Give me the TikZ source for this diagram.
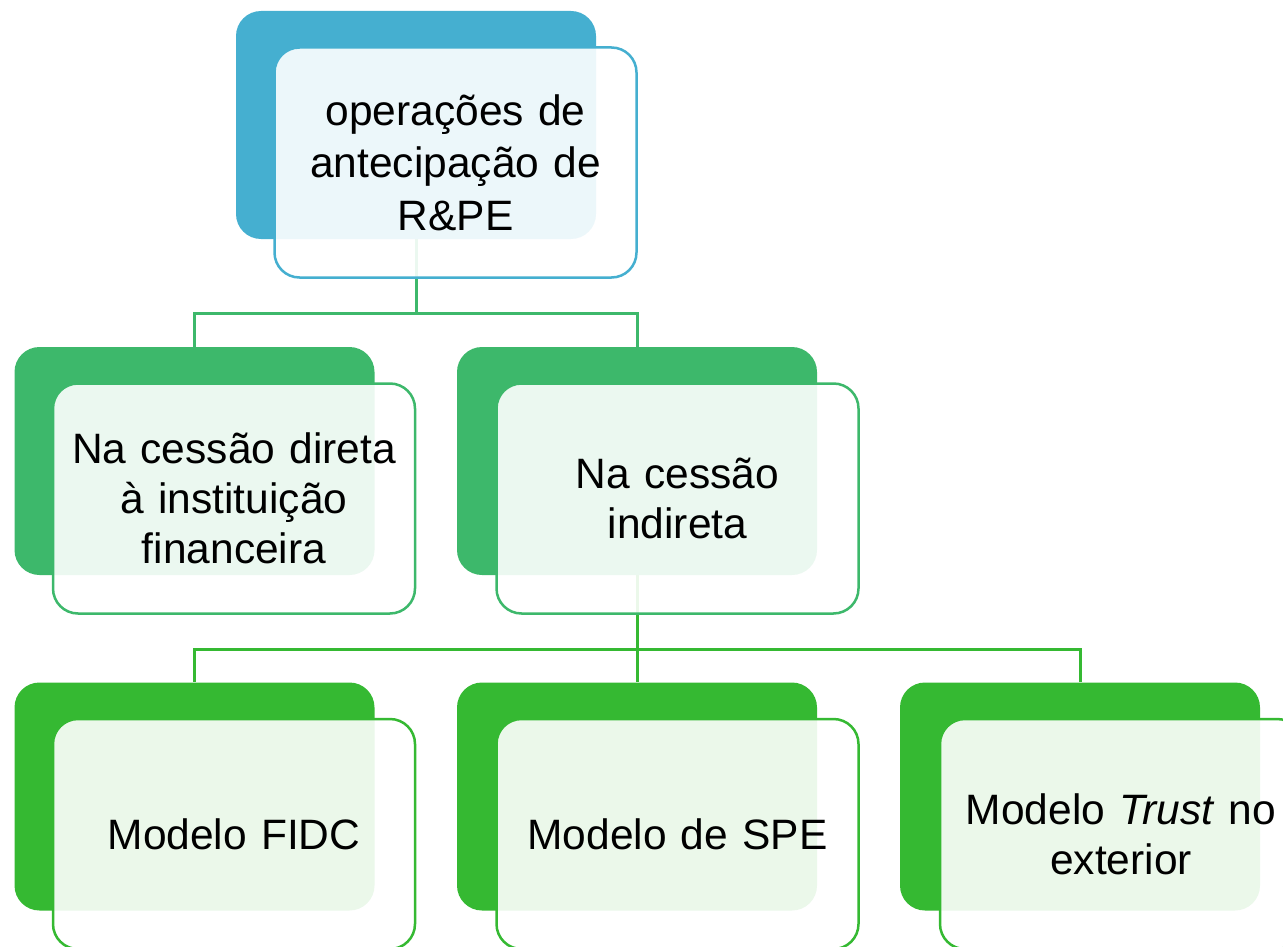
\documentclass[tikz,border=0pt]{standalone}
\usepackage{fontspec}
\setmainfont{Liberation Sans}
\usetikzlibrary{positioning}
\pgfdeclarelayer{background}
\pgfsetlayers{background,main}
\definecolor{cblue}{HTML}{45AFD0}
\definecolor{cgreenA}{HTML}{3DB86B}
\definecolor{cgreenB}{HTML}{35B932}
\tikzset{
  backbox/.style={rounded corners=25pt, minimum width=360pt, minimum height=228pt, inner sep=0pt, draw=none},
  frontbox/.style={rounded corners=25pt, minimum width=362pt, minimum height=230pt, inner sep=0pt,
    line width=2.5pt, fill=white, fill opacity=0.9, text opacity=1, text width=350pt, align=center,
    font=\fontsize{42.5}{50}\selectfont},
  conn/.style={line width=3pt},
}
\begin{document}
\begin{tikzpicture}[x=1pt,y=-1pt]
\useasboundingbox (0,0) rectangle (1283,947);
% back boxes
\node[backbox, fill=cblue] (tB) at (416,125) {};
\node[backbox, fill=cgreenA] (aB) at (194.5,461) {};
\node[backbox, fill=cgreenA] (bB) at (637,461) {};
\node[backbox, fill=cgreenB] (cB) at (194.5,796.5) {};
\node[backbox, fill=cgreenB] (dB) at (637,796.5) {};
\node[backbox, fill=cgreenB] (eB) at (1080,796.5) {};
% front boxes
\node[frontbox, draw=cblue, font=\fontsize{42.5}{52.5}\selectfont] (tF) at (455.5,162.5) {operações de\\antecipação de\\R\&PE};
\node[frontbox, draw=cgreenA] (aF) at (234,498.5) {Na cessão direta\\à instituição\\financeira};
\node[frontbox, draw=cgreenA] (bF) at (677.5,498.5) {Na cessão\\indireta};
\node[frontbox, draw=cgreenB] (cF) at (234,834) {Modelo FIDC};
\node[frontbox, draw=cgreenB] (dF) at (677.5,834) {Modelo de SPE};
\node[frontbox, draw=cgreenB] (eF) at (1121,834) {Modelo \textit{Trust} no\\exterior};
% connectors
\coordinate (j1) at (416,313);
\coordinate (j2) at (637,649);
\begin{pgfonlayer}{background}
\draw[conn, draw=cgreenA] (tB.south) -- (j1) -| (aB.north);
\draw[conn, draw=cgreenA] (j1) -| (bB.north);
\draw[conn, draw=cgreenB] (bB.south) -- (j2) -| (cB.north);
\draw[conn, draw=cgreenB] (j2) -- (dB.north);
\draw[conn, draw=cgreenB] (j2) -| (eB.north);
\end{pgfonlayer}
\end{tikzpicture}
\end{document}
